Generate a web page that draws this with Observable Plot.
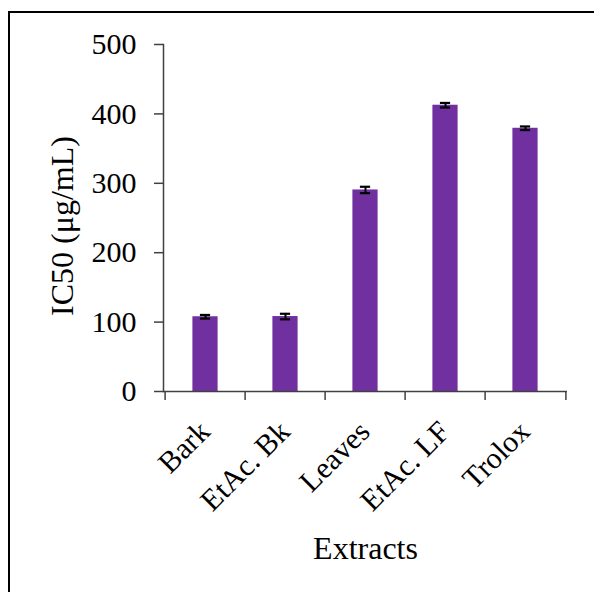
<!DOCTYPE html>
<html>
<head>
<meta charset="utf-8">
<script src="https://cdn.jsdelivr.net/npm/d3@7"></script>
<script src="https://cdn.jsdelivr.net/npm/@observablehq/plot@0.6"></script>
<style>
  html, body { margin: 0; padding: 0; background: #fff; overflow: hidden; }
  #wrap { position: relative; width: 594px; height: 592px; }
  #border { position: absolute; left: 8px; top: 11px; width: 800px; height: 800px; border: 2.5px solid #000; box-sizing: border-box; pointer-events: none; }
  #chart { position: absolute; left: 0; top: 0; }
</style>
</head>
<body>
<div id="wrap"><div id="chart"></div><div id="border"></div></div>
<script>
const categories = ["Bark", "EtAc. Bk", "Leaves", "EtAc. LF", "Trolox"];
const values = [107.7, 108.0, 290.4, 412.5, 379.3];
const errors = [2.6, 4.0, 4.6, 3.3, 2.6];
const yTicks = [0, 100, 200, 300, 400, 500];
const yLabel = "IC50 (μg/mL)";
const xLabel = "Extracts";

const data = categories.map((c, i) => ({cat: c, val: values[i], err: errors[i]}));

const W = 594, H = 592;
const mL = 163, mR = 27, mT = 44, mB = 201;
const bw = (W - mL - mR) / categories.length;
const axisColor = "#404040";

const chart = Plot.plot({
  width: W,
  height: H,
  marginLeft: mL,
  marginRight: mR,
  marginTop: mT,
  marginBottom: mB,
  style: {fontFamily: "'Liberation Serif', 'Times New Roman', serif", color: "black", background: "white"},
  x: {domain: categories, padding: 0, label: null},
  y: {domain: [0, 500], label: null},
  marks: [
    Plot.barY(data, {x: "cat", y: "val", fill: "#7030A0", insetLeft: (bw - 26) / 2, insetRight: (bw - 26) / 2}),
    Plot.ruleX(data, {x: "cat", y1: d => d.val - d.err, y2: d => d.val + d.err, stroke: "black", strokeWidth: 2}),
    Plot.tickY(data, {x: "cat", y: d => d.val + d.err, stroke: "black", strokeWidth: 2.2, insetLeft: (bw - 11) / 2, insetRight: (bw - 11) / 2}),
    Plot.tickY(data, {x: "cat", y: d => d.val - d.err, stroke: "black", strokeWidth: 2.2, insetLeft: (bw - 11) / 2, insetRight: (bw - 11) / 2}),
    Plot.axisY({ticks: yTicks, tickSize: 9, tickPadding: 18, fontSize: 30, stroke: axisColor, strokeWidth: 1.5, fill: "black", label: null}),
    Plot.axisX({ticks: categories, tickSize: 9, dx: -bw / 2, tickFormat: () => "", stroke: axisColor, strokeWidth: 1.5, label: null}),
    Plot.axisX({ticks: [categories[categories.length - 1]], tickSize: 9, dx: bw / 2, tickFormat: () => "", stroke: axisColor, strokeWidth: 1.5, label: null}),
    Plot.ruleY([0], {stroke: axisColor, strokeWidth: 1.5}),
    Plot.frame({anchor: "left", stroke: axisColor, strokeWidth: 1.5}),
    Plot.text(categories, {x: d => d, text: d => d, frameAnchor: "bottom", rotate: -45, textAnchor: "end", lineAnchor: "bottom", dx: 6, dy: 42, fontSize: 30, fill: "black"}),
    Plot.text([yLabel], {text: d => d, frameAnchor: "left", rotate: -90, textAnchor: "middle", lineAnchor: "middle", dx: -(mL - 62), dy: 8, fontSize: 32, fill: "black"}),
    Plot.text([xLabel], {text: d => d, frameAnchor: "bottom", textAnchor: "middle", lineAnchor: "bottom", dy: 167, fontSize: 32, fill: "black"})
  ]
});
document.getElementById("chart").appendChild(chart);
</script>
</body>
</html>
